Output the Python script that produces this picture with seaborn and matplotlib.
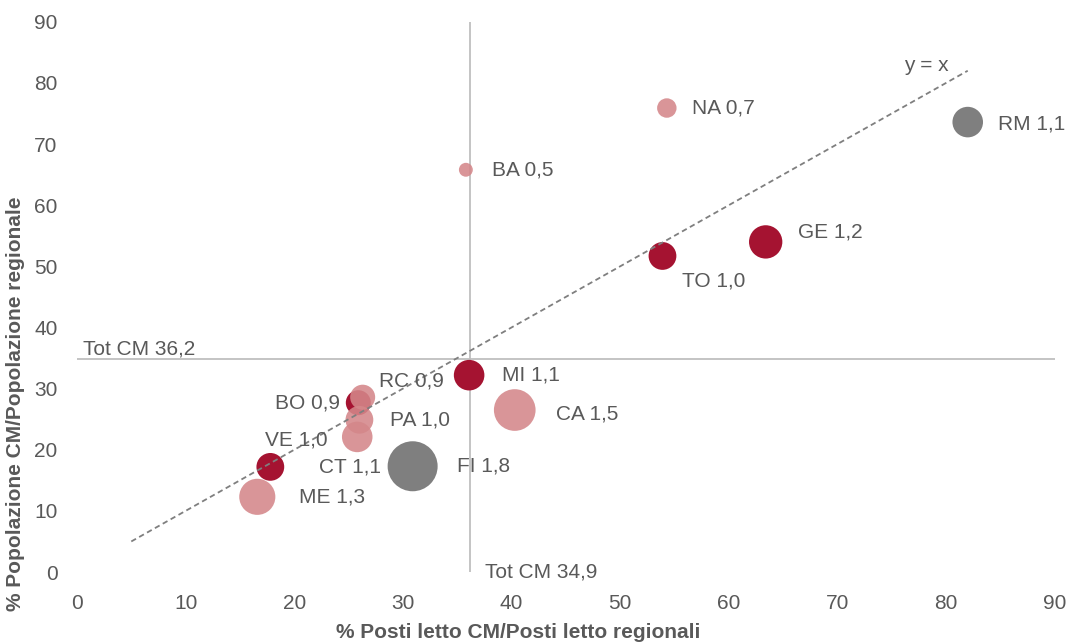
import matplotlib
matplotlib.use("Agg")
import matplotlib.pyplot as plt
import seaborn as sns
import pandas as pd
from matplotlib.colors import to_rgba
from matplotlib import font_manager

# data
cities = ["NA", "BA", "RM", "GE", "TO", "MI", "CA", "BO", "RC", "PA", "CT", "FI", "ME", "VE"]
area = ["Sud e Isole", "Sud e Isole", "Centro", "Nord", "Nord", "Nord", "Sud e Isole",
        "Nord", "Sud e Isole", "Sud e Isole", "Sud e Isole", "Centro", "Sud e Isole", "Nord"]
posti_letto = [54.3, 35.8, 82.0, 63.4, 53.9, 36.1, 40.3, 25.9, 26.3, 26.0, 25.8, 30.9, 16.6, 17.8]
popolazione = [75.9, 65.8, 73.6, 54.0, 51.7, 32.2, 26.5, 27.7, 28.6, 24.9, 22.1, 17.3, 12.3, 17.2]
ratio = [0.7, 0.5, 1.1, 1.2, 1.0, 1.1, 1.5, 0.9, 0.9, 1.0, 1.1, 1.8, 1.3, 1.0]

tot_cm_x = 36.2
tot_cm_y = 34.9
diag = [5, 82]

df = pd.DataFrame({"city": cities, "area": area, "x": posti_letto,
                   "y": popolazione, "ratio": ratio})

# label offsets in points (dx, dy, ha)
offsets = {
    "NA": (18, 0, "left"), "BA": (19, 0, "left"), "RM": (22, -1.5, "left"),
    "GE": (23, 7, "left"), "TO": (14, -18, "left"), "MI": (24, 0, "left"),
    "CA": (30, -3, "left"), "BO": (-13, 0, "right"), "RC": (12, 12, "left"),
    "PA": (22, 0, "left"), "CT": (17, -22, "right"), "FI": (32, 0, "left"),
    "ME": (30, 0, "left"), "VE": (-4, 19.5, "left"),
}

names = {f.name for f in font_manager.fontManager.ttflist}
narrow = "Liberation Sans Narrow" if "Liberation Sans Narrow" in names else "Liberation Sans"

sns.set_theme(style="white")
plt.rcParams["font.family"] = [narrow, "DejaVu Sans"]

text_col = "#595959"
palette = {"Nord": "#A51331", "Centro": "#7F7F7F", "Sud e Isole": to_rgba("#D4878A", 0.88)}
fs = 15

fig = plt.figure(figsize=(10.72, 6.42), dpi=100)
ax = fig.add_axes([0.0718, 0.109, 0.912, 0.857])

ax.axhline(tot_cm_y, color="#BFBFBF", lw=1.3, zorder=1)
ax.axvline(tot_cm_x, color="#BFBFBF", lw=1.3, zorder=1)

sns.scatterplot(data=df, x="x", y="y", hue="area", size="ratio",
                sizes={v: 400 * v ** 2 for v in set(ratio)},
                palette=palette, linewidth=0, legend=False, ax=ax, zorder=2)

ax.plot(diag, diag, ls=(0, (3, 2)), color="#7F7F7F", lw=1.3, zorder=3)

for c, x, y, val in zip(cities, posti_letto, popolazione, ratio):
    dx, dy, ha = offsets[c]
    ax.annotate(f"{c} {val:.1f}".replace(".", ","), (x, y), xytext=(dx, dy),
                textcoords="offset points", ha=ha, va="center",
                fontsize=fs, color=text_col, zorder=4)

ax.annotate(f"Tot CM {tot_cm_x:.1f}".replace(".", ","), (0, tot_cm_y), xytext=(4, 7),
            textcoords="offset points", ha="left", va="center", fontsize=fs, color=text_col)
ax.annotate(f"Tot CM {tot_cm_y:.1f}".replace(".", ","), (tot_cm_x, 0), xytext=(11, 0),
            textcoords="offset points", ha="left", va="center", fontsize=fs, color=text_col)
ax.annotate("y = x", (diag[1], diag[1]), xytext=(-46, 4),
            textcoords="offset points", ha="left", va="center", fontsize=fs, color=text_col)

ax.set_xlim(0, 90)
ax.set_ylim(0, 90)
ax.set_xticks(range(0, 91, 10))
ax.set_yticks(range(0, 91, 10))
ax.tick_params(axis="both", length=0, labelsize=fs, labelcolor=text_col)
ax.tick_params(axis="x", pad=16)
ax.tick_params(axis="y", pad=14)
sns.despine(ax=ax, left=True, bottom=True)

ax.set_xlabel("% Posti letto CM/Posti letto regionali", fontsize=15,
              fontweight="bold", color=text_col)
ax.set_ylabel("% Popolazione CM/Popolazione regionale", fontsize=15,
              fontweight="bold", color=text_col)
ax.xaxis.set_label_coords(0.451, -0.093)
ax.yaxis.set_label_coords(-0.053, 0.305)

fig.savefig("out.png", dpi=100)
